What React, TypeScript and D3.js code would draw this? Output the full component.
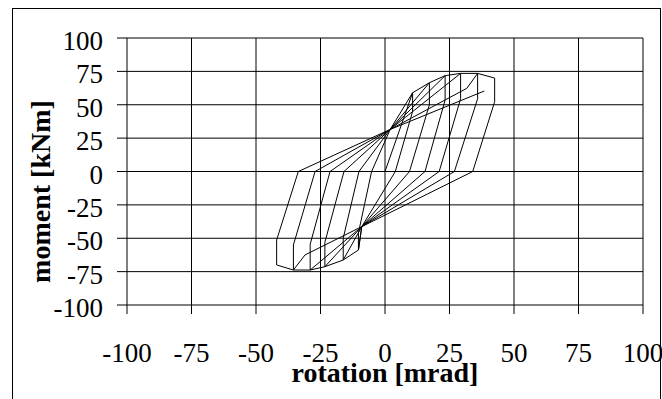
import React from "react";
import * as d3 from "d3";

// Path of the hysteresis record, in drawing order
const rotation = [
  0, 10.7, 10.7, 4, -9, -10.3, -10.3, -5.2, 2, 10.7,
  17.2, 17.2, 9.5, -9, -10.3, -16.2, -16.2, -10.1, 2, 17.2,
  23.3, 23.3, 15.5, -9, -16.2, -23.3, -23.3, -15.9, 2, 23.3,
  29.3, 29.3, 21, -9, -23.3, -29, -29, -21.3, 2, 29.3,
  35.9, 35.9, 26.9, -9, -29, -35.5, -35.5, -27.1, 2, 31.7, 35.9,
  42.5, 42.5, 34, -9, -31, -35.5, -42, -42, -33.6, 2, 38.5,
];
const moment = [
  0, 59, 45, 0, -41.3, -58.8, -46, 0, 31.5, 59,
  66.5, 50, 0, -41.3, -58.8, -66.3, -50, 0, 31.5, 66.5,
  71.8, 53.5, 0, -41.3, -66.3, -71.3, -53, 0, 31.5, 71.8,
  73.5, 54.5, 0, -41.3, -71.3, -73.8, -54.5, 0, 31.5, 73.5,
  73.5, 54.5, 0, -41.3, -73.8, -73.8, -55, 0, 31.5, 62.3, 73.5,
  70, 52.3, 0, -41.3, -62.5, -73.8, -70, -51.3, 0, 31.5, 60.3,
];

const xTicks = [-100, -75, -50, -25, 0, 25, 50, 75, 100];
const yTicks = [-100, -75, -50, -25, 0, 25, 50, 75, 100];
const xTitle = "rotation [mrad]";
const yTitle = "moment [kNm]";

const W = 662;
const H = 399;
const plot = { left: 127, right: 643, top: 38, bottom: 305 };
const FONT = "'Liberation Serif', 'Times New Roman', serif";

export default function App() {
  const x = d3.scaleLinear().domain([-100, 100]).range([plot.left, plot.right]);
  const y = d3.scaleLinear().domain([-100, 100]).range([plot.bottom, plot.top]);
  const pts: [number, number][] = rotation.map((r, i) => [r, moment[i]]);
  const line = d3
    .line<[number, number]>()
    .x((d) => x(d[0]))
    .y((d) => y(d[1]));

  return (
    <svg
      width={W}
      height={H}
      style={{ position: "absolute", left: 0, top: 0, background: "#fff" }}
      fontFamily={FONT}
    >
      <rect x={12.5} y={8.5} width={648} height={400} fill="#fff" stroke="#000" strokeWidth={1} />
      {/* grid */}
      {xTicks.map((t) => (
        <line key={"gx" + t} x1={x(t)} x2={x(t)} y1={plot.top} y2={plot.bottom + 9} stroke="#000" strokeWidth={1} />
      ))}
      {yTicks.map((t) => (
        <line key={"gy" + t} x1={plot.left - 10} x2={plot.right} y1={y(t)} y2={y(t)} stroke="#000" strokeWidth={1} />
      ))}
      {/* data */}
      <path d={line(pts) || ""} fill="none" stroke="#000" strokeWidth={1} strokeLinejoin="miter" />
      {/* tick labels */}
      {xTicks.map((t) => (
        <text key={"tx" + t} x={x(t)} y={362} textAnchor="middle" fontSize={27} fill="#000">
          {t}
        </text>
      ))}
      {yTicks.map((t) => (
        <text key={"ty" + t} x={103} y={y(t) + 12} textAnchor="end" fontSize={27} fill="#000">
          {t}
        </text>
      ))}
      <text x={(plot.left + plot.right) / 2} y={382} textAnchor="middle" fontSize={28} fontWeight="bold" fill="#000">
        {xTitle}
      </text>
      <text
        transform={`translate(50, ${191.5}) rotate(-90)`}
        textAnchor="middle"
        fontSize={28}
        fontWeight="bold"
        fill="#000"
      >
        {yTitle}
      </text>
    </svg>
  );
}
